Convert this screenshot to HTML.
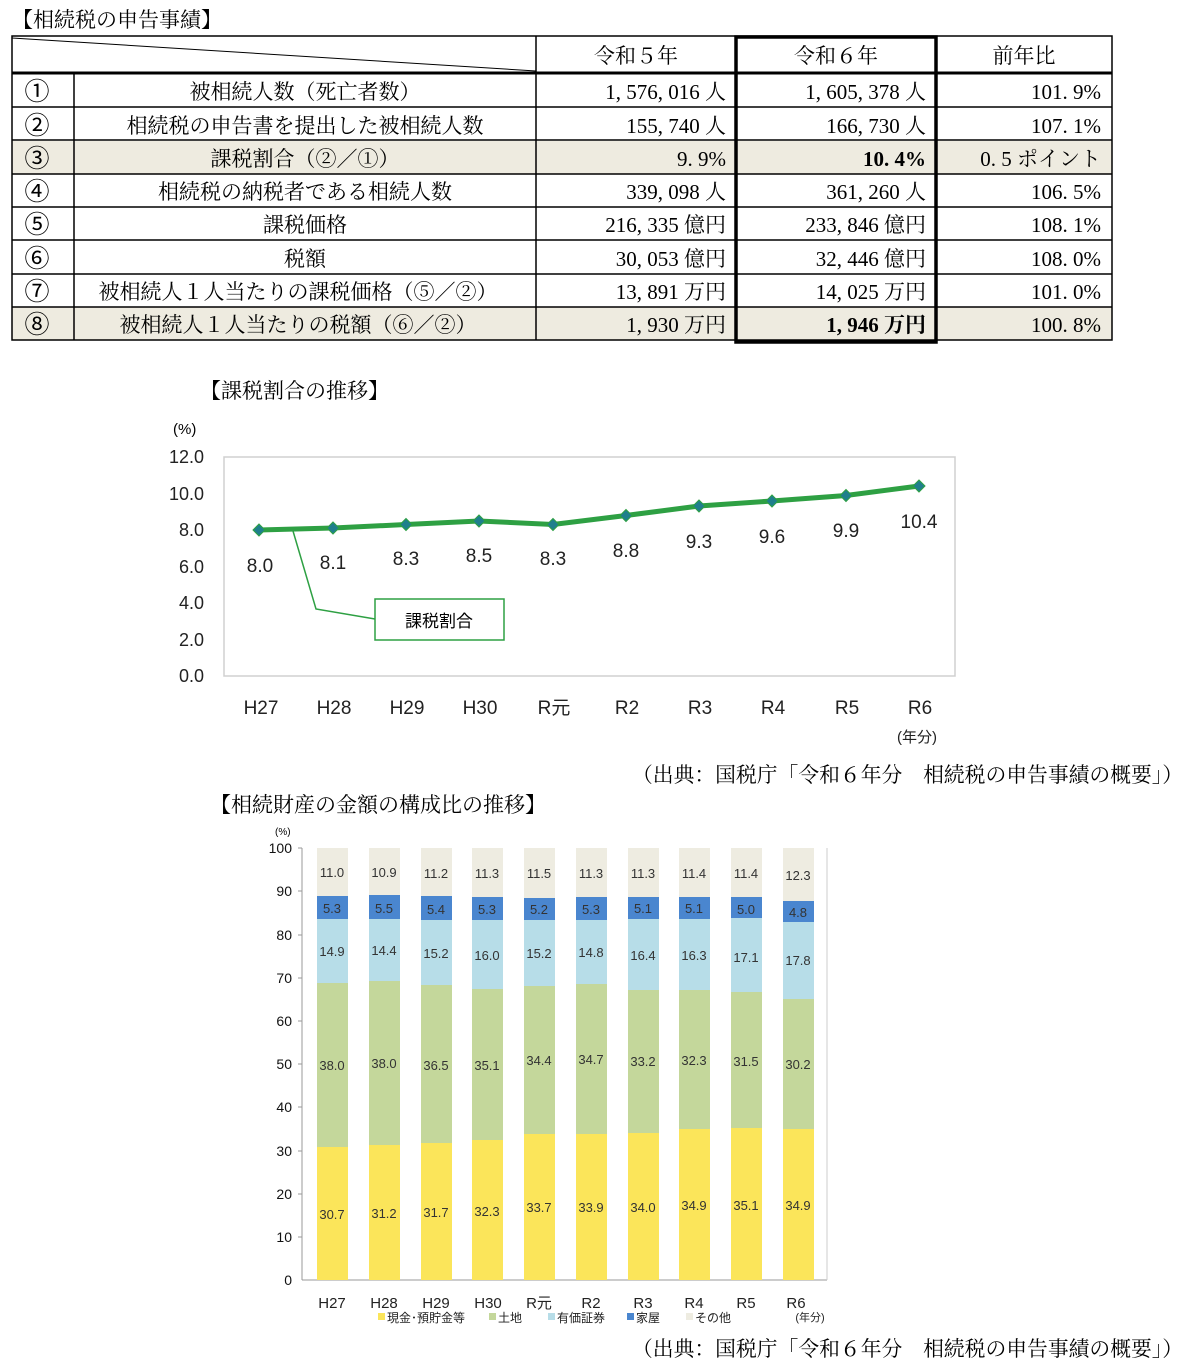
<!DOCTYPE html>
<html><head><meta charset="utf-8"><style>
body{margin:0;background:#fff;width:1200px;height:1365px;overflow:hidden;font-family:"Liberation Serif","Noto Serif CJK SC","Noto Sans CJK JP",serif;}
svg{position:absolute;left:0;top:0}
</style></head><body>
<svg width="1200" height="1365" viewBox="0 0 1200 1365" xmlns="http://www.w3.org/2000/svg" font-family="Liberation Serif, Noto Serif CJK SC, Noto Sans CJK JP, serif">
<text x="12" y="27" font-size="21">【相続税の申告事績】</text>
<rect x="12" y="141" width="1100" height="33" fill="#eeebe0"/>
<rect x="12" y="307" width="1100" height="33" fill="#eeebe0"/>
<g stroke="#000" stroke-width="1.5" fill="none">
<rect x="12" y="36" width="1100" height="304"/>
<line x1="12" y1="73" x2="1112" y2="73" stroke-width="3"/>
<line x1="12" y1="107" x2="1112" y2="107"/><line x1="12" y1="140" x2="1112" y2="140"/>
<line x1="12" y1="174" x2="1112" y2="174"/><line x1="12" y1="207" x2="1112" y2="207"/>
<line x1="12" y1="240" x2="1112" y2="240"/><line x1="12" y1="274" x2="1112" y2="274"/>
<line x1="12" y1="307" x2="1112" y2="307"/>
<line x1="74" y1="73" x2="74" y2="340"/><line x1="536" y1="36" x2="536" y2="340"/>
<line x1="12" y1="38" x2="536" y2="71" stroke-width="1"/>
<rect x="736" y="37" width="200" height="305" stroke-width="3.5"/>
</g>
<g font-size="21" text-anchor="middle">
<text x="636" y="63">令和５年</text><text x="836" y="63">令和６年</text><text x="1024" y="63">前年比</text>
<g font-size="25" font-family="Noto Sans CJK JP, sans-serif"><text x="37" y="100">①</text><text x="37" y="134">②</text><text x="37" y="167">③</text><text x="37" y="200">④</text><text x="37" y="233">⑤</text><text x="37" y="267">⑥</text><text x="37" y="300">⑦</text><text x="37" y="333">⑧</text></g>
<text x="305" y="99">被相続人数（死亡者数）</text>
<text x="305" y="133">相続税の申告書を提出した被相続人数</text>
<text x="305" y="166">課税割合（②／①）</text>
<text x="305" y="199">相続税の納税者である相続人数</text>
<text x="305" y="232">課税価格</text>
<text x="305" y="266">税額</text>
<text x="298" y="299">被相続人１人当たりの課税価格（⑤／②）</text>
<text x="298" y="332">被相続人１人当たりの税額（⑥／②）</text>
</g>
<g font-size="21" text-anchor="end">
<text x="726" y="99">1, 576, 016 人</text><text x="926" y="99">1, 605, 378 人</text><text x="1101" y="99">101. 9%</text>
<text x="726" y="133">155, 740 人</text><text x="926" y="133">166, 730 人</text><text x="1101" y="133">107. 1%</text>
<text x="726" y="166">9. 9%</text><text x="926" y="166" font-weight="bold">10. 4%</text><text x="1101" y="166">0. 5 ポイント</text>
<text x="726" y="199">339, 098 人</text><text x="926" y="199">361, 260 人</text><text x="1101" y="199">106. 5%</text>
<text x="726" y="232">216, 335 億円</text><text x="926" y="232">233, 846 億円</text><text x="1101" y="232">108. 1%</text>
<text x="726" y="266">30, 053 億円</text><text x="926" y="266">32, 446 億円</text><text x="1101" y="266">108. 0%</text>
<text x="726" y="299">13, 891 万円</text><text x="926" y="299">14, 025 万円</text><text x="1101" y="299">101. 0%</text>
<text x="726" y="332">1, 930 万円</text><text x="926" y="332" font-weight="bold">1, 946 万円</text><text x="1101" y="332">100. 8%</text>
</g>
<text x="200" y="398" font-size="21">【課税割合の推移】</text>
<g font-family="Liberation Sans, Noto Sans CJK JP, sans-serif">
<text x="173" y="434" font-size="15">(%)</text>
<rect x="224" y="457" width="731" height="219" fill="none" stroke="#d0d0d0" stroke-width="1.5"/>
<g font-size="18" text-anchor="end" fill="#222">
<text x="204" y="463">12.0</text><text x="204" y="500">10.0</text><text x="204" y="536">8.0</text><text x="204" y="573">6.0</text><text x="204" y="609">4.0</text><text x="204" y="646">2.0</text><text x="204" y="682">0.0</text>
</g>
<g font-size="19" text-anchor="middle" fill="#222">
<text x="261" y="714">H27</text><text x="334" y="714">H28</text><text x="407" y="714">H29</text><text x="480" y="714">H30</text><text x="554" y="714">R元</text><text x="627" y="714">R2</text><text x="700" y="714">R3</text><text x="773" y="714">R4</text><text x="847" y="714">R5</text><text x="920" y="714">R6</text>
<text x="917" y="742" font-size="15">(年分)</text>
</g>
<polyline points="259,530 333,528 406,524.5 479,521 553,524.5 626,515.5 699,506 772,501 846,495.5 919,486" fill="none" stroke="#2ea043" stroke-width="5"/>
<g fill="#1f7f8c" stroke="#2ea043" stroke-width="1">
<path d="M259,524l6,6-6,6-6-6z"/><path d="M333,522l6,6-6,6-6-6z"/><path d="M406,518.5l6,6-6,6-6-6z"/><path d="M479,515l6,6-6,6-6-6z"/><path d="M553,518.5l6,6-6,6-6-6z"/><path d="M626,509.5l6,6-6,6-6-6z"/><path d="M699,500l6,6-6,6-6-6z"/><path d="M772,495l6,6-6,6-6-6z"/><path d="M846,489.5l6,6-6,6-6-6z"/><path d="M919,480l6,6-6,6-6-6z"/>
</g>
<g font-size="19" text-anchor="middle" fill="#222">
<text x="260" y="572">8.0</text><text x="333" y="569">8.1</text><text x="406" y="565">8.3</text><text x="479" y="562">8.5</text><text x="553" y="565">8.3</text><text x="626" y="557">8.8</text><text x="699" y="548">9.3</text><text x="772" y="543">9.6</text><text x="846" y="537">9.9</text><text x="919" y="528">10.4</text>
</g>
<polyline points="293,531 316,609 375,619" fill="none" stroke="#2ea043" stroke-width="1.5"/>
<rect x="375" y="599" width="129" height="41" fill="#fff" stroke="#2ea043" stroke-width="1.5"/>
<text x="439" y="627" font-size="17" text-anchor="middle">課税割合</text>
</g>
<text x="632" y="782" font-size="21" textLength="551" lengthAdjust="spacingAndGlyphs">（出典：国税庁「令和６年分　相続税の申告事績の概要」）</text>
<text x="210" y="812" font-size="21">【相続財産の金額の構成比の推移】</text>
<g font-family="Liberation Sans, Noto Sans CJK JP, sans-serif">
<text x="275" y="835" font-size="10">(%)</text>
<g font-size="14" text-anchor="end" fill="#111">
<text x="292" y="853">100</text><text x="292" y="896">90</text><text x="292" y="940">80</text><text x="292" y="983">70</text><text x="292" y="1026">60</text><text x="292" y="1069">50</text><text x="292" y="1112">40</text><text x="292" y="1156">30</text><text x="292" y="1199">20</text><text x="292" y="1242">10</text><text x="292" y="1285">0</text>
</g>
<g stroke="#999" stroke-width="1">
<line x1="302" y1="848" x2="302" y2="1280"/><line x1="302" y1="1280" x2="827" y2="1280"/><line x1="827" y1="848" x2="827" y2="1280" stroke="#ccc"/>
<line x1="298" y1="848" x2="302" y2="848"/><line x1="298" y1="891" x2="302" y2="891"/><line x1="298" y1="935" x2="302" y2="935"/><line x1="298" y1="978" x2="302" y2="978"/><line x1="298" y1="1021" x2="302" y2="1021"/><line x1="298" y1="1064" x2="302" y2="1064"/><line x1="298" y1="1107" x2="302" y2="1107"/><line x1="298" y1="1151" x2="302" y2="1151"/><line x1="298" y1="1194" x2="302" y2="1194"/><line x1="298" y1="1237" x2="302" y2="1237"/>
</g>
<g>
<g fill="#eeece1"><rect x="317" y="848" width="31" height="432"/><rect x="369" y="848" width="31" height="432"/><rect x="421" y="848" width="31" height="432"/><rect x="472" y="848" width="31" height="432"/><rect x="524" y="848" width="31" height="432"/><rect x="576" y="848" width="31" height="432"/><rect x="628" y="848" width="31" height="432"/><rect x="679" y="848" width="31" height="432"/><rect x="731" y="848" width="31" height="432"/><rect x="783" y="848" width="31" height="432"/></g>
<g fill="#4a86cf"><rect x="317" y="896" width="31" height="384"/><rect x="369" y="895" width="31" height="385"/><rect x="421" y="896" width="31" height="384"/><rect x="472" y="897" width="31" height="383"/><rect x="524" y="898" width="31" height="382"/><rect x="576" y="897" width="31" height="383"/><rect x="628" y="897" width="31" height="383"/><rect x="679" y="897" width="31" height="383"/><rect x="731" y="897" width="31" height="383"/><rect x="783" y="901" width="31" height="379"/></g>
<g fill="#b7dde8"><rect x="317" y="919" width="31" height="361"/><rect x="369" y="919" width="31" height="361"/><rect x="421" y="920" width="31" height="360"/><rect x="472" y="920" width="31" height="360"/><rect x="524" y="920" width="31" height="360"/><rect x="576" y="920" width="31" height="360"/><rect x="628" y="919" width="31" height="361"/><rect x="679" y="919" width="31" height="361"/><rect x="731" y="918" width="31" height="362"/><rect x="783" y="922" width="31" height="358"/></g>
<g fill="#c4d79b"><rect x="317" y="983" width="31" height="297"/><rect x="369" y="981" width="31" height="299"/><rect x="421" y="985" width="31" height="295"/><rect x="472" y="989" width="31" height="291"/><rect x="524" y="986" width="31" height="294"/><rect x="576" y="984" width="31" height="296"/><rect x="628" y="990" width="31" height="290"/><rect x="679" y="990" width="31" height="290"/><rect x="731" y="992" width="31" height="288"/><rect x="783" y="999" width="31" height="281"/></g>
<g fill="#fbe55a"><rect x="317" y="1147" width="31" height="133"/><rect x="369" y="1145" width="31" height="135"/><rect x="421" y="1143" width="31" height="137"/><rect x="472" y="1140" width="31" height="140"/><rect x="524" y="1134" width="31" height="146"/><rect x="576" y="1134" width="31" height="146"/><rect x="628" y="1133" width="31" height="147"/><rect x="679" y="1129" width="31" height="151"/><rect x="731" y="1128" width="31" height="152"/><rect x="783" y="1129" width="31" height="151"/></g>
</g>
<g font-size="13" text-anchor="middle" fill="#333">
<text x="332" y="877">11.0</text><text x="384" y="877">10.9</text><text x="436" y="878">11.2</text><text x="487" y="878">11.3</text><text x="539" y="878">11.5</text><text x="591" y="878">11.3</text><text x="643" y="878">11.3</text><text x="694" y="878">11.4</text><text x="746" y="878">11.4</text><text x="798" y="880">12.3</text>
<text x="332" y="913">5.3</text><text x="384" y="913">5.5</text><text x="436" y="914">5.4</text><text x="487" y="914">5.3</text><text x="539" y="914">5.2</text><text x="591" y="914">5.3</text><text x="643" y="913">5.1</text><text x="694" y="913">5.1</text><text x="746" y="914">5.0</text><text x="798" y="917">4.8</text>
<text x="332" y="956">14.9</text><text x="384" y="955">14.4</text><text x="436" y="958">15.2</text><text x="487" y="960">16.0</text><text x="539" y="958">15.2</text><text x="591" y="957">14.8</text><text x="643" y="960">16.4</text><text x="694" y="960">16.3</text><text x="746" y="962">17.1</text><text x="798" y="965">17.8</text>
<text x="332" y="1070">38.0</text><text x="384" y="1068">38.0</text><text x="436" y="1070">36.5</text><text x="487" y="1070">35.1</text><text x="539" y="1065">34.4</text><text x="591" y="1064">34.7</text><text x="643" y="1066">33.2</text><text x="694" y="1065">32.3</text><text x="746" y="1066">31.5</text><text x="798" y="1069">30.2</text>
<text x="332" y="1219">30.7</text><text x="384" y="1218">31.2</text><text x="436" y="1217">31.7</text><text x="487" y="1216">32.3</text><text x="539" y="1212">33.7</text><text x="591" y="1212">33.9</text><text x="643" y="1212">34.0</text><text x="694" y="1210">34.9</text><text x="746" y="1210">35.1</text><text x="798" y="1210">34.9</text>
</g>
<g font-size="15" text-anchor="middle" fill="#222">
<text x="332" y="1308">H27</text><text x="384" y="1308">H28</text><text x="436" y="1308">H29</text><text x="488" y="1308">H30</text><text x="539" y="1308">R元</text><text x="591" y="1308">R2</text><text x="643" y="1308">R3</text><text x="694" y="1308">R4</text><text x="746" y="1308">R5</text><text x="796" y="1308">R6</text>
<text x="810" y="1321" font-size="11">(年分)</text>
</g>
<g font-size="12" fill="#222">
<rect x="378" y="1313" width="7" height="7" fill="#fbe55a"/><text x="387" y="1322">現金･預貯金等</text>
<rect x="489" y="1313" width="7" height="7" fill="#c4d79b"/><text x="498" y="1322">土地</text>
<rect x="548" y="1313" width="7" height="7" fill="#b7dde8"/><text x="557" y="1322">有価証券</text>
<rect x="627" y="1313" width="7" height="7" fill="#4a86cf"/><text x="636" y="1322">家屋</text>
<rect x="686" y="1313" width="7" height="7" fill="#eeece1"/><text x="695" y="1322">その他</text>
</g>
</g>
<text x="632" y="1356" font-size="21" textLength="551" lengthAdjust="spacingAndGlyphs">（出典：国税庁「令和６年分　相続税の申告事績の概要」）</text>
</svg>
</body></html>
